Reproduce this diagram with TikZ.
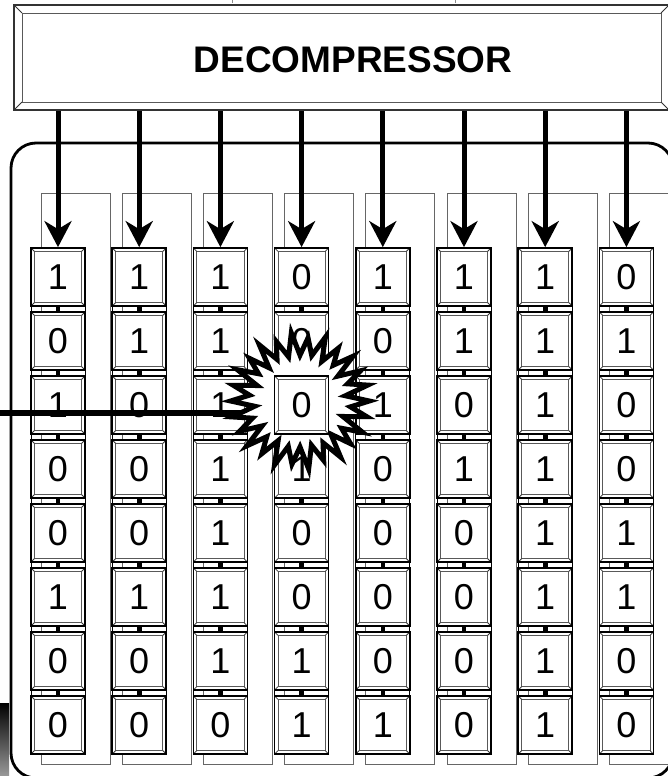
\documentclass[tikz,border=0pt]{standalone}
\usepackage{fontspec}
\setmainfont{Liberation Sans}
\usetikzlibrary{arrows.meta,calc}

\pgfdeclarelayer{back}
\pgfdeclarelayer{burstlayer}
\pgfdeclarelayer{front}
\pgfsetlayers{back,main,burstlayer,front}

% inner rim and corner mitres of a bevelled box
\newcommand\bevelrim[1]{%
  \draw[black!65,line width=0.9pt]
    ([shift={(#1,#1)}]path picture bounding box.south west) rectangle
    ([shift={(-#1,-#1)}]path picture bounding box.north east);
  \draw[black!80,line width=0.8pt]
    (path picture bounding box.south west) -- ([shift={(#1,#1)}]path picture bounding box.south west)
    (path picture bounding box.south east) -- ([shift={(-#1,#1)}]path picture bounding box.south east)
    (path picture bounding box.north west) -- ([shift={(#1,-#1)}]path picture bounding box.north west)
    (path picture bounding box.north east) -- ([shift={(-#1,-#1)}]path picture bounding box.north east);
}

\tikzset{
  cell/.style={draw=black,line width=1.7pt,fill=white,inner sep=0pt,
    minimum width=54pt,minimum height=58pt,
    font=\fontsize{36}{36}\selectfont,
    path picture={\bevelrim{3.4pt}}},
  decbox/.style={draw=black!80,line width=1.8pt,fill=white,inner sep=0pt,
    minimum width=655pt,minimum height=105pt,
    path picture={\bevelrim{8pt}}},
  feed/.style={line width=5pt,-{Stealth[length=26pt,width=27pt,inset=8pt]}},
  link/.style={line width=4.6pt},
  frame/.style={draw=black!60,line width=1pt},
  body/.style={draw=black,line width=0.9pt},
  probe/.style={line width=5.8pt},
  burstline/.style={draw=black,fill=white,line width=5pt,line join=miter,miter limit=30}
}

\begin{document}
\begin{tikzpicture}[x=1pt,y=-1pt]
\useasboundingbox (0,0) rectangle (667,776);

% enclosing board and its shadow fragment
\shade[top color=black,bottom color=black!40] (0,703) rectangle (9,776);
\draw[line width=2.8pt,rounded corners=25pt] (11,143) rectangle (673,778);

% small marks along the upper border
\draw[black!45,line width=0.7pt] (232,0) -- (232,3) (455,0) -- (455,3);

% column frames and register bodies
\begin{pgfonlayer}{back}
\foreach \i in {1,...,8}{
  \pgfmathsetmacro\cx{58+81.2*(\i-1)}
  \draw[frame] (\cx-17,193) rectangle (\cx+52,764);
  \draw[body] (\cx-27,248) rectangle (\cx+27,754);
}
\end{pgfonlayer}

% decompressor
\node[decbox] (dec) at (341.5,57.5) {};
\node[font=\bfseries\fontsize{37}{37}\selectfont] (dectext) at (353,60) {DECOMPRESSOR};

% scan cells
\foreach \r [count=\j] in {
  {1,1,1,0,1,1,1,0},
  {0,1,1,0,0,1,1,1},
  {1,0,1,0,1,0,1,0},
  {0,0,1,1,0,1,1,0},
  {0,0,1,0,0,0,1,1},
  {1,1,1,0,0,0,1,1},
  {0,0,1,1,0,0,1,0},
  {0,0,0,1,1,0,1,0}}{
  \foreach \v [count=\i] in \r {
    \pgfmathsetmacro\cx{58+81.2*(\i-1)}
    \pgfmathsetmacro\cy{277+64*(\j-1)}
    \ifnum\numexpr\i*10+\j\relax=43
      \begin{pgfonlayer}{front}
      \node[cell] (c-\i-\j) at (\cx,\cy) {\v};
      \end{pgfonlayer}
    \else
      \node[cell] (c-\i-\j) at (\cx,\cy) {\v};
    \fi
  }
}

% chain links between neighbouring cells
\foreach \i in {1,...,8}{
  \foreach \j [evaluate=\j as \k using int(\j+1)] in {1,...,7}{
    \draw[link] (c-\i-\j.south) -- (c-\i-\k.north);
  }
}

% decompressor outputs feeding each chain
\foreach \i in {1,...,8}{
  \draw[feed] (dec.south -| c-\i-1.north) -- (c-\i-1.north);
}

% fault burst around the observed cell: alternating tips and notches
\coordinate (hit) at (300,401);
\foreach \k in {0,...,51}{
  \pgfmathsetmacro\aa{\k*6.923}
  \pgfmathsetmacro\rr{56+10*cos(\k*180)+2.5*sin(\k*97)}
  \pgfmathsetmacro\px{1.05*\rr*cos(\aa)}
  \pgfmathsetmacro\py{\rr*sin(\aa)}
  \coordinate (b\k) at ([shift={(\px,\py)}]hit);
}
\begin{pgfonlayer}{burstlayer}
\draw[burstline] (b0) \foreach \k in {1,...,51}{ -- (b\k) } -- cycle;
\end{pgfonlayer}

% probe line into the burst
\coordinate (probein) at (0,413);
\draw[probe] (probein) -- (probein -| hit);

\end{tikzpicture}
\end{document}
